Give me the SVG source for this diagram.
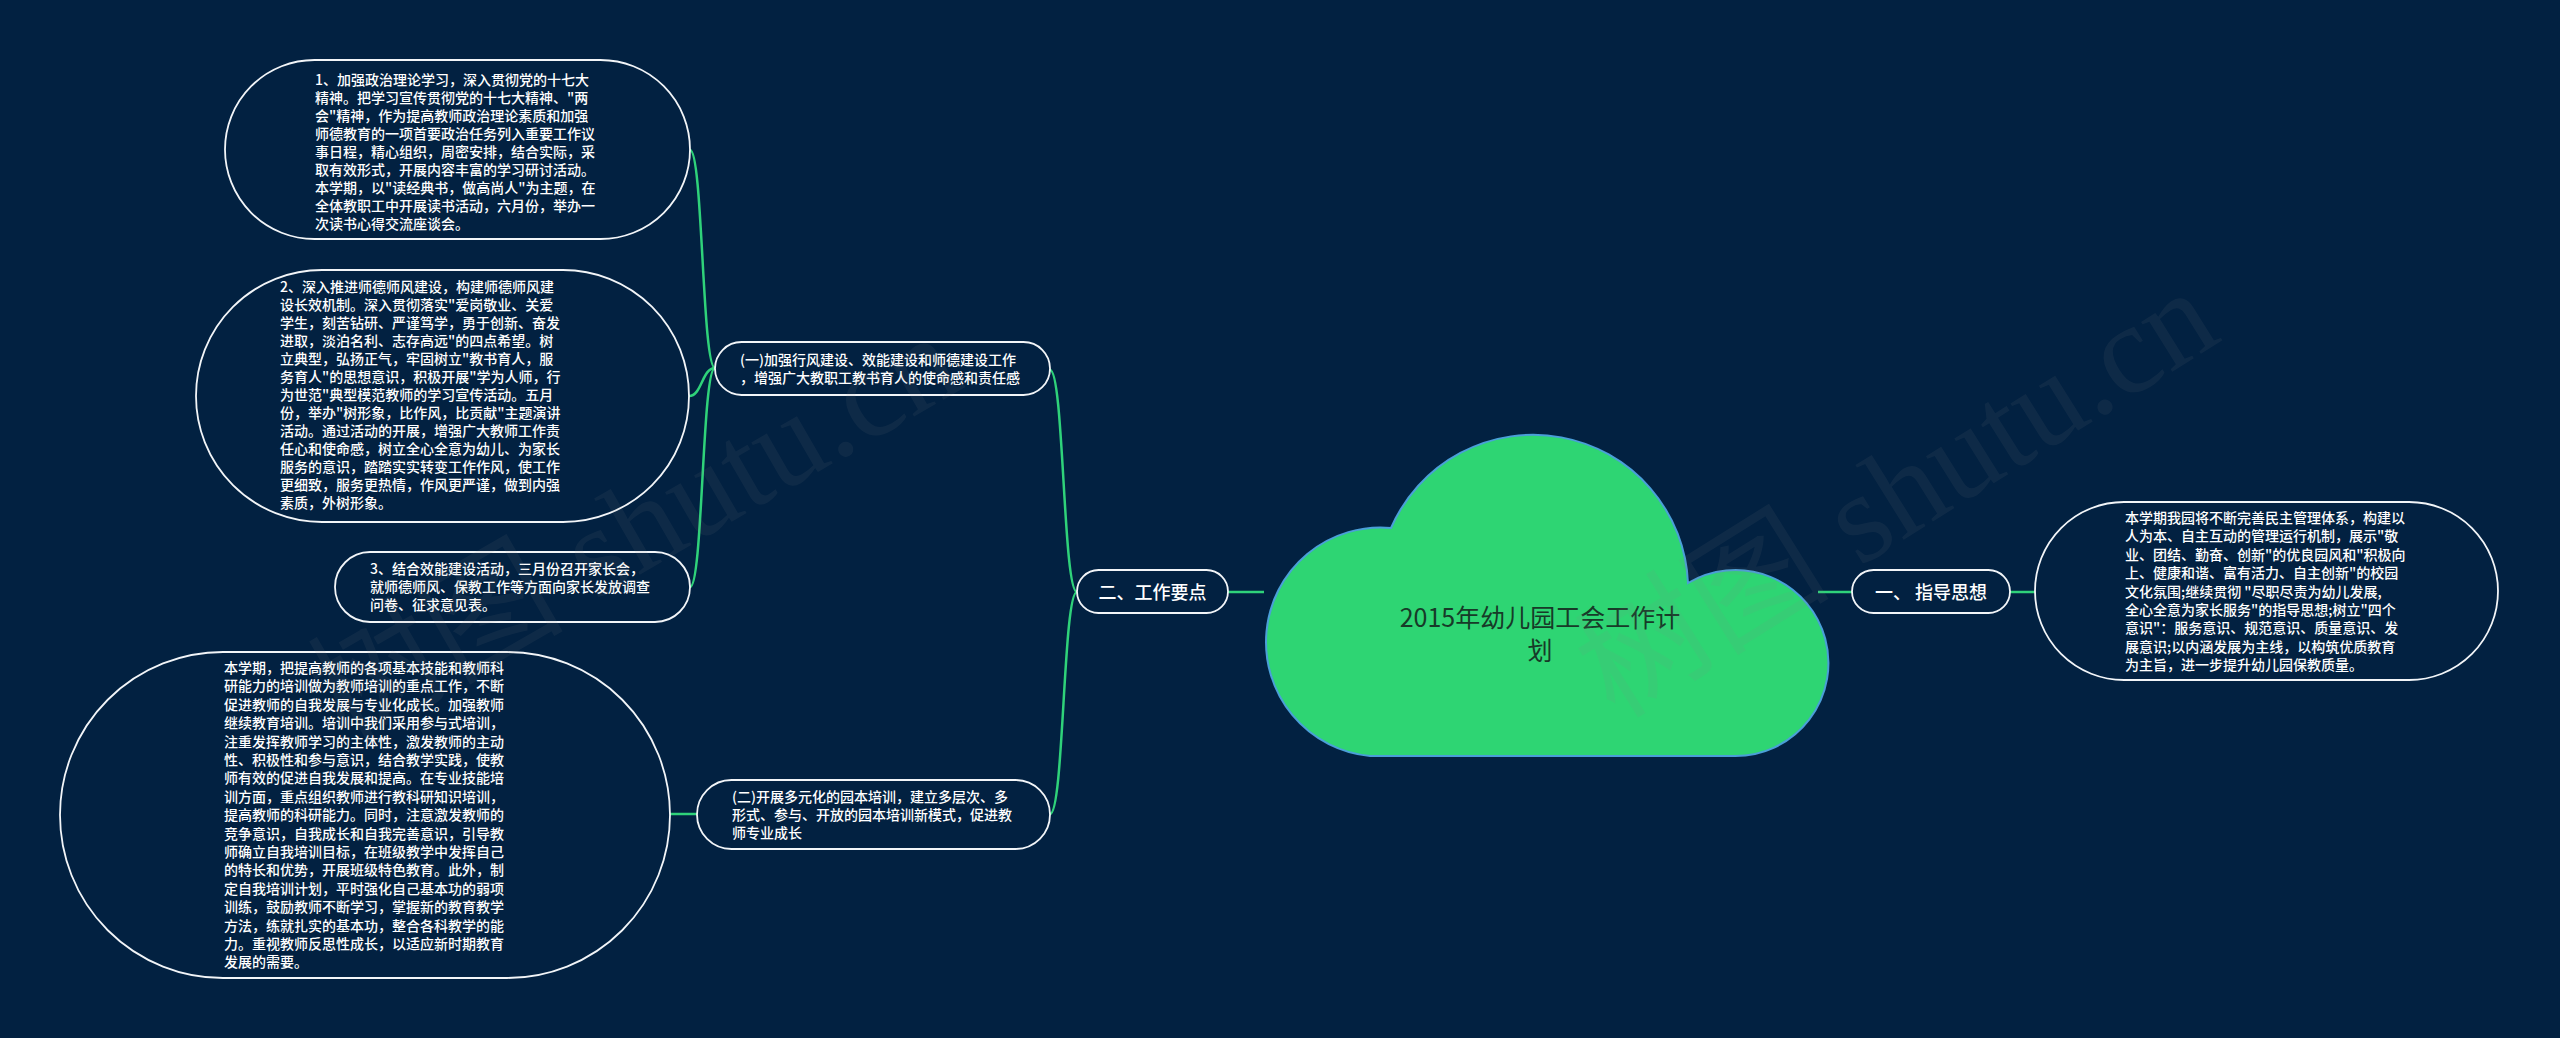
<svg xmlns="http://www.w3.org/2000/svg" width="2560" height="1038" viewBox="0 0 2560 1038">
<style>
.bg{fill:#022141}
.pill{fill:#022141;stroke:#f2f5f8;stroke-width:1.8}
.t{font-family:"Noto Sans CJK SC","Noto Sans",sans-serif;font-size:14px;font-weight:500;fill:#ffffff}
.t2{font-family:"Noto Sans CJK SC","Noto Sans",sans-serif;font-size:18px;font-weight:500;fill:#ffffff}
.ct{font-family:"Noto Sans CJK SC","Noto Sans",sans-serif;font-size:25px;fill:#173a28}
.conn path{fill:none;stroke:#2fd27a;stroke-width:2.5}
.wm{font-family:"Liberation Serif","Noto Sans CJK SC",serif;font-size:128px;fill:#8a8a8a;opacity:0.09}
</style>
<rect class="bg" x="0" y="0" width="2560" height="1038"/>
<g id="connectors" class="conn">
<path d="M715,368 C702,368 703,150 690,150"/>
<path d="M715,368 C702,368 702,396 689,396"/>
<path d="M715,368 C702,368 703,587 690,587"/>
<path d="M670,814 L697,814"/>
<path d="M1077,592 C1063,592 1064,370 1050,370"/>
<path d="M1077,592 C1063,592 1064,814 1050,814"/>
<path d="M1228,592 L1264,592"/>
<path d="M1818,592 L1852,592"/>
<path d="M2010,592 L2035,592"/>
</g>
<g id="root">
<path d="M1370,756 A114,114 0 1 1 1391,528 A155,155 0 0 1 1688,583 A93,93 0 1 1 1735,756 Z" fill="#2ed573" stroke="#4a9fd8" stroke-width="2"/>
<text class="ct" text-anchor="middle"><tspan x="1540" y="627">2015年幼儿园工会工作计</tspan><tspan x="1540" y="660">划</tspan></text>
</g>
<g id="n-zhidao">
<rect class="pill" x="1852" y="570" width="158" height="43" rx="21.5"/>
<text class="t2" x="1931" y="598.5" text-anchor="middle">一、 指导思想</text>
</g>
<g id="n-zhidao-1">
<rect class="pill" x="2035" y="502" width="463" height="178" rx="89"/>
<text class="t"><tspan x="2125" y="523">本学期我园将不断完善民主管理体系，构建以</tspan><tspan x="2125" y="541.4">人为本、自主互动的管理运行机制，展示"敬</tspan><tspan x="2125" y="559.8">业、团结、勤奋、创新"的优良园风和"积极向</tspan><tspan x="2125" y="578.2">上、健康和谐、富有活力、自主创新"的校园</tspan><tspan x="2125" y="596.6">文化氛围;继续贯彻 "尽职尽责为幼儿发展,</tspan><tspan x="2125" y="615">全心全意为家长服务"的指导思想;树立"四个</tspan><tspan x="2125" y="633.4">意识"：服务意识、规范意识、质量意识、发</tspan><tspan x="2125" y="651.8">展意识;以内涵发展为主线，以构筑优质教育</tspan><tspan x="2125" y="670.2">为主旨，进一步提升幼儿园保教质量。</tspan></text>
</g>
<g id="n-yaodian">
<rect class="pill" x="1077" y="570" width="151" height="43" rx="21.5"/>
<text class="t2" x="1152.5" y="598.5" text-anchor="middle">二、工作要点</text>
</g>
<g id="n-yi">
<rect class="pill" x="715" y="342" width="335" height="53" rx="26.5"/>
<text class="t"><tspan x="740" y="365">(一)加强行风建设、效能建设和师德建设工作</tspan><tspan x="740" y="383">，增强广大教职工教书育人的使命感和责任感</tspan></text>
</g>
<g id="n-er">
<rect class="pill" x="697" y="780" width="353" height="69" rx="34.5"/>
<text class="t"><tspan x="732" y="802">(二)开展多元化的园本培训，建立多层次、多</tspan><tspan x="732" y="820">形式、参与、开放的园本培训新模式，促进教</tspan><tspan x="732" y="838">师专业成长</tspan></text>
</g>
<g id="n-yi-1">
<rect class="pill" x="225" y="60" width="465" height="179" rx="89.5"/>
<text class="t"><tspan x="315" y="85">1、加强政治理论学习，深入贯彻党的十七大</tspan><tspan x="315" y="103">精神。把学习宣传贯彻党的十七大精神、"两</tspan><tspan x="315" y="121">会"精神，作为提高教师政治理论素质和加强</tspan><tspan x="315" y="139">师德教育的一项首要政治任务列入重要工作议</tspan><tspan x="315" y="157">事日程，精心组织，周密安排，结合实际，采</tspan><tspan x="315" y="175">取有效形式，开展内容丰富的学习研讨活动。</tspan><tspan x="315" y="193">本学期，以"读经典书，做高尚人"为主题，在</tspan><tspan x="315" y="211">全体教职工中开展读书活动，六月份，举办一</tspan><tspan x="315" y="229">次读书心得交流座谈会。</tspan></text>
</g>
<g id="n-yi-2">
<rect class="pill" x="196" y="270" width="493" height="252" rx="126"/>
<text class="t"><tspan x="280" y="292">2、深入推进师德师风建设，构建师德师风建</tspan><tspan x="280" y="310">设长效机制。深入贯彻落实"爱岗敬业、关爱</tspan><tspan x="280" y="328">学生，刻苦钻研、严谨笃学，勇于创新、奋发</tspan><tspan x="280" y="346">进取，淡泊名利、志存高远"的四点希望。树</tspan><tspan x="280" y="364">立典型，弘扬正气，牢固树立"教书育人，服</tspan><tspan x="280" y="382">务育人"的思想意识，积极开展"学为人师，行</tspan><tspan x="280" y="400">为世范"典型模范教师的学习宣传活动。五月</tspan><tspan x="280" y="418">份，举办"树形象，比作风，比贡献"主题演讲</tspan><tspan x="280" y="436">活动。通过活动的开展，增强广大教师工作责</tspan><tspan x="280" y="454">任心和使命感，树立全心全意为幼儿、为家长</tspan><tspan x="280" y="472">服务的意识，踏踏实实转变工作作风，使工作</tspan><tspan x="280" y="490">更细致，服务更热情，作风更严谨，做到内强</tspan><tspan x="280" y="508">素质，外树形象。</tspan></text>
</g>
<g id="n-yi-3">
<rect class="pill" x="335" y="552" width="355" height="70" rx="35"/>
<text class="t"><tspan x="370" y="574">3、结合效能建设活动，三月份召开家长会，</tspan><tspan x="370" y="592">就师德师风、保教工作等方面向家长发放调查</tspan><tspan x="370" y="610">问卷、征求意见表。</tspan></text>
</g>
<g id="n-er-1">
<rect class="pill" x="60" y="652" width="610" height="326" rx="163"/>
<text class="t"><tspan x="224" y="673">本学期，把提高教师的各项基本技能和教师科</tspan><tspan x="224" y="691.4">研能力的培训做为教师培训的重点工作，不断</tspan><tspan x="224" y="709.8">促进教师的自我发展与专业化成长。加强教师</tspan><tspan x="224" y="728.2">继续教育培训。培训中我们采用参与式培训，</tspan><tspan x="224" y="746.6">注重发挥教师学习的主体性，激发教师的主动</tspan><tspan x="224" y="765">性、积极性和参与意识，结合教学实践，使教</tspan><tspan x="224" y="783.4">师有效的促进自我发展和提高。在专业技能培</tspan><tspan x="224" y="801.8">训方面，重点组织教师进行教科研知识培训，</tspan><tspan x="224" y="820.2">提高教师的科研能力。同时，注意激发教师的</tspan><tspan x="224" y="838.6">竞争意识，自我成长和自我完善意识，引导教</tspan><tspan x="224" y="857">师确立自我培训目标，在班级教学中发挥自己</tspan><tspan x="224" y="875.4">的特长和优势，开展班级特色教育。此外，制</tspan><tspan x="224" y="893.8">定自我培训计划，平时强化自己基本功的弱项</tspan><tspan x="224" y="912.2">训练，鼓励教师不断学习，掌握新的教育教学</tspan><tspan x="224" y="930.6">方法，练就扎实的基本功，整合各科教学的能</tspan><tspan x="224" y="949">力。重视教师反思性成长，以适应新时期教育</tspan><tspan x="224" y="967.4">发展的需要。</tspan></text>
</g>
<g id="watermark">
<text class="wm" transform="translate(345,745) rotate(-30)">树图 shutu.cn</text>
<text class="wm" transform="translate(1615,720) rotate(-32)">树图 shutu.cn</text>
</g>
</svg>
